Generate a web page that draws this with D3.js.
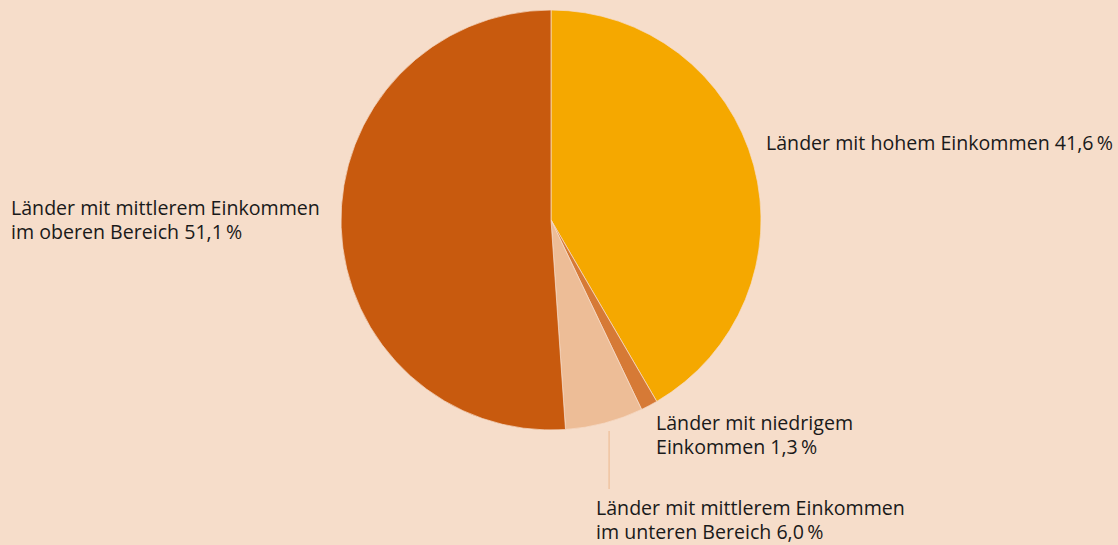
<!DOCTYPE html>
<html>
<head>
<meta charset="utf-8">
<script src="https://cdn.jsdelivr.net/npm/d3@7"></script>
<style>
  html, body { margin: 0; padding: 0; background: #f6ddca; }
  svg { display: block; }
  text { font-family: "Open Sans", "Noto Sans", sans-serif; fill: #1a1a1a; }
</style>
</head>
<body>
<svg id="chart" width="1118" height="545"></svg>
<script>
// Income groups, clockwise from 12 o'clock
const categories = [
  "Länder mit hohem Einkommen",
  "Länder mit niedrigem Einkommen",
  "Länder mit mittlerem Einkommen im unteren Bereich",
  "Länder mit mittlerem Einkommen im oberen Bereich"
];
const shares = [41.6, 1.3, 6.0, 51.1];
const colors = ["#f5a800", "#d67a36", "#edbd97", "#c85a0e"];

// Label text split into lines
const labelLines = [
  ["Länder mit hohem Einkommen 41,6\u2009%"],
  ["Länder mit niedrigem", "Einkommen 1,3\u2009%"],
  ["Länder mit mittlerem Einkommen", "im unteren Bereich 6,0\u2009%"],
  ["Länder mit mittlerem Einkommen", "im oberen Bereich 51,1\u2009%"]
];
// Label anchor points (x, first baseline)
const labelPos = [[766, 150], [656, 430], [596, 515], [11, 215]];

const svg = d3.select("#chart");
const cx = 551, cy = 220, r = 210;

const pie = d3.pie().sort(null).value(d => d)(shares);
const arc = d3.arc().innerRadius(0).outerRadius(r);

const g = svg.append("g").attr("transform", `translate(${cx},${cy})`);
g.selectAll("path")
  .data(pie)
  .join("path")
  .attr("d", arc)
  .attr("fill", (d, i) => colors[i])
  .attr("stroke", "#f6ddca")
  .attr("stroke-width", 0.7);

// Leader line below the small lower-middle slice
const lm = pie[2];
const a = lm.startAngle + (lm.endAngle - lm.startAngle) * 0.44;
const lx = cx + r * Math.sin(a);
svg.append("line")
  .attr("x1", lx).attr("x2", lx)
  .attr("y1", cy + r + 1).attr("y2", 489)
  .attr("stroke", "#edbd97")
  .attr("stroke-width", 1.2);

// Labels
labelLines.forEach((lines, i) => {
  const t = svg.append("text")
    .attr("x", labelPos[i][0])
    .attr("y", labelPos[i][1])
    .attr("font-size", 19.6);
  lines.forEach((ln, j) => {
    t.append("tspan")
      .attr("x", labelPos[i][0])
      .attr("dy", j === 0 ? 0 : 24)
      .text(ln);
  });
});
</script>
</body>
</html>
